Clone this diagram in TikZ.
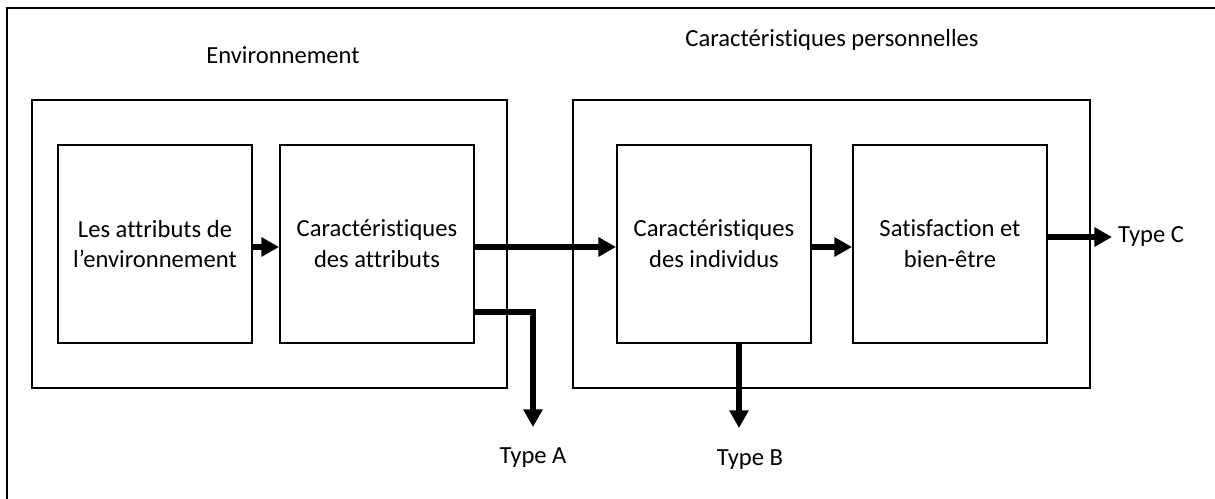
\documentclass[tikz,border=0pt]{standalone}
\usepackage{fontspec}
\setmainfont[Ligatures={NoCommon}]{Carlito}
\usetikzlibrary{arrows.meta}
\tikzset{
	bloc/.style={draw, line width=1.1pt, minimum width=3.88cm, minimum height=3.96cm, align=center, inner sep=0pt},
	cadre/.style={draw, line width=1.1pt, minimum height=5.76cm, inner sep=0pt},
	flux/.style={line width=3pt, -{Triangle[length=10pt, width=10.5pt]}},
	libre/.style={font=\fontsize{14}{17.5}\selectfont}
}

\begin{document}
\begin{tikzpicture}[x=0.02cm, y=-0.02cm, libre]
			%%%%% START %%%%%
			
			\useasboundingbox (0, 0) rectangle (1215, 499);
			\clip (0, 0) rectangle (1215, 499);
			\draw[line width=1.2pt] (7, 8) rectangle (1240, 530);
			
			\node (titreEnv) at (283, 55) {Environnement};
			\node (titrePers) at (832, 40) {Caractéristiques personnelles};
			
			\node[cadre, minimum width=9.5cm] (env) at (269.5, 244) {};
			\node[cadre, minimum width=10.34cm] (pers) at (831.5, 244) {};
			
			\node[bloc] (attr) at (155, 244) {Les attributs de\\l’environnement};
			\node[bloc] (carAttr) at (377, 244) {Caractéristiques\\des attributs};
			\node[bloc] (carInd) at (714, 244) {Caractéristiques\\des individus};
			\node[bloc] (satis) at (950, 244) {Satisfaction et\\bien-être};
			
			\node (typeA) at (533, 458) {Type A};
			\node (typeB) at (750, 460) {Type B};
			\node[anchor=west] (typeC) at (1112, 237) {Type C};
			
			\coordinate (finA) at (533, 427);
			\coordinate (finB) at (739, 428);
			
			\draw[flux] ([yshift=-0.06cm]attr.east) -- ([yshift=-0.06cm]carAttr.west);
			\draw[flux] ([yshift=-0.06cm]carAttr.east) -- ([yshift=-0.06cm]carInd.west);
			\draw[flux] ([yshift=-0.06cm]carInd.east) -- ([yshift=-0.06cm]satis.west);
			\draw[flux] (satis.east |- typeC.west) -- (typeC.west);
			\draw[flux] ([yshift=-1.36cm]carAttr.east) -| (finA);
			\draw[flux] (carInd.south -| finB) -- (finB);
			
			%%%%% END %%%%%
\end{tikzpicture}
\end{document}
